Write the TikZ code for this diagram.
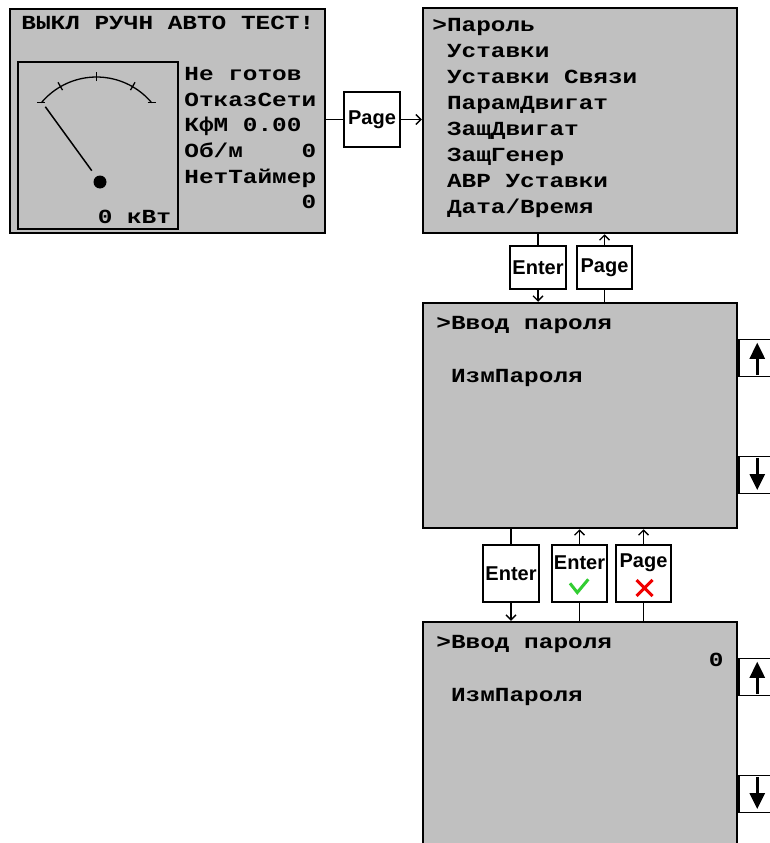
\documentclass[tikz,border=0pt]{standalone}
\usepackage{fontspec}
\newfontfamily\lcdfont[FakeStretch=1.22]{Liberation Mono}
\newfontfamily\keyfont{Liberation Sans}
\usetikzlibrary{arrows.meta}
\definecolor{lcdgray}{RGB}{192,192,192}
\definecolor{okgreen}{RGB}{50,205,50}
\definecolor{nored}{RGB}{240,0,0}
\newcommand{\scrollkeys}[1]{%
  \node[arrowkey] (#1up) at ([shift={(0,37)}]#1.north east) {};
  \node[arrowkey] (#1down) at ([shift={(0,154)}]#1.north east) {};
  \draw[scroll] ([shift={(19,-2)}]#1up.south west) -- ([shift={(19,4)}]#1up.north west);
  \draw[scroll] ([shift={(19,2)}]#1down.north west) -- ([shift={(19,-4)}]#1down.south west);
}

\begin{document}
\begin{tikzpicture}[x=1pt,y=-1pt,>={Straight Barb[length=5pt,width=10pt]},line width=1.3pt,
    screen/.style={draw,line width=2.5pt,fill=lcdgray,inner sep=0pt,minimum width=314pt,minimum height=225pt},
    lcd/.style={font=\lcdfont\bfseries\fontsize{20}{24}\selectfont,inner sep=0pt,anchor=base west},
    keybox/.style={draw,fill=white,inner sep=0pt,minimum width=56pt,minimum height=57pt},
    keytext/.style={font=\keyfont\bfseries\fontsize{20}{24}\selectfont,inner sep=0pt},
    arrowkey/.style={draw,fill=white,anchor=north west,minimum width=60pt,minimum height=37pt},
    scroll/.style={line width=2.5pt,-{Triangle[length=16pt,width=15pt]}}]
    \useasboundingbox (0,0) rectangle (770,843);
    \clip (0,0) rectangle (770,843);

    \node[screen,minimum width=315pt,minimum height=224pt] (status) at (167.5,121) {};
    \node[draw,fill=lcdgray,inner sep=0pt,minimum width=160pt,minimum height=167pt] (gauge) at (98,145.5) {};
    \node[lcd] (mode) at ([shift={(12,22)}]status.north west) {ВЫКЛ РУЧН АВТО ТЕСТ!};
    \foreach \txt [count=\i from 0] in {Не готов,ОтказСети,КфМ 0.00,Об/м~~~~0,НетТаймер,~~~~~~~~0}
      \node[lcd] (st\i) at ([shift={(175,73+25.6*\i)}]status.north west) {\txt};
    \coordinate (gc) at (96.5,149);
    \coordinate (hub) at (100,182);
    \draw ([shift={(-140:72)}]gc) arc[start angle=-140,end angle=-40,radius=72];
    \foreach \a in {60,90,120}
      \draw ([shift={(-\a:68)}]gc) -- ([shift={(-\a:77)}]gc);
    \foreach \a in {40,140}
      \draw ([shift={(-\a:72)},xshift=-4pt]gc) -- ([shift={(-\a:72)},xshift=4pt]gc);
    \draw[line width=1.5pt] ([shift={(-126:14)}]hub) -- ([shift={(-126:93)}]hub);
    \fill (hub) circle[radius=6.5];
    \node[lcd,anchor=base east] (power) at ([shift={(-7,-6)}]gauge.south east) {0 кВт};

    \node[screen] (menu) at (580,120.5) {};
    \foreach \txt [count=\i from 0] in {>Пароль,~Уставки,~Уставки Связи,~ПарамДвигат,~ЗащДвигат,~ЗащГенер,~АВР Уставки,~Дата/Время}
      \node[lcd] (mi\i) at ([shift={(10,25+26*\i)}]menu.north west) {\txt};

    \node[screen] (pwd) at (580,415.5) {};
    \node[lcd] (pwdtitle) at ([shift={(14,28)}]pwd.north west) {>Ввод пароля};
    \node[lcd] (pwditem) at ([shift={(14,81)}]pwd.north west) {~ИзмПароля};
    \scrollkeys{pwd}

    \node[screen] (pwdset) at (580,734.5) {};
    \node[lcd] (setitle) at ([shift={(14,28)}]pwdset.north west) {>Ввод пароля};
    \node[lcd,anchor=base east] (setval) at ([shift={(-14,46)}]pwdset.north east) {0};
    \node[lcd] (setitem) at ([shift={(14,81)}]pwdset.north west) {~ИзмПароля};
    \scrollkeys{pwdset}

    \node[keybox,keytext,minimum height=55pt] (pagekey) at (372,119.5) {Page};
    \draw (pagekey.west -| status.east) -- (pagekey.west);
    \draw[->] (pagekey.east) -- (pagekey.east -| menu.west);

    \node[keybox,keytext,minimum height=43pt] (enterkey) at (538,267.5) {Enter};
    \node[keybox,keytext,minimum height=43pt,minimum width=55pt] (backkey) at (604.5,267.5) {Page};
    \draw (enterkey.north |- menu.south) -- (enterkey.north);
    \draw[->] (enterkey.south) -- (enterkey.south |- pwd.north);
    \draw (backkey.south |- pwd.north) -- (backkey.south);
    \draw[->] (backkey.north) -- (backkey.north |- menu.south);

    \node[keybox,keytext] (editkey) at (511,573.5) {Enter};
    \node[keybox,minimum width=55pt] (okkey) at (579.5,573.5) {};
    \node[keytext] (oktext) at ([shift={(0,-10.5)}]okkey.center) {Enter};
    \draw[okgreen,line width=3pt] ([shift={(-9.5,9.8)}]okkey.center) -- ([shift={(-2.2,19)}]okkey.center) -- ([shift={(8.8,5.8)}]okkey.center);
    \node[keybox,minimum width=55pt] (nokey) at (643.5,573.5) {};
    \node[keytext] (notext) at ([shift={(0,-10.5)}]nokey.center) {Page};
    \draw[nored,line width=3pt] ([shift={(-7,6.5)}]nokey.center) -- ([shift={(9,22.5)}]nokey.center)
      ([shift={(9,6.5)}]nokey.center) -- ([shift={(-7,22.5)}]nokey.center);
    \draw (editkey.north |- pwd.south) -- (editkey.north);
    \draw[->] (editkey.south) -- (editkey.south |- pwdset.north);
    \draw (okkey.south |- pwdset.north) -- (okkey.south);
    \draw[->] (okkey.north) -- (okkey.north |- pwd.south);
    \draw (nokey.south |- pwdset.north) -- (nokey.south);
    \draw[->] (nokey.north) -- (nokey.north |- pwd.south);
  \end{tikzpicture}
\end{document}
